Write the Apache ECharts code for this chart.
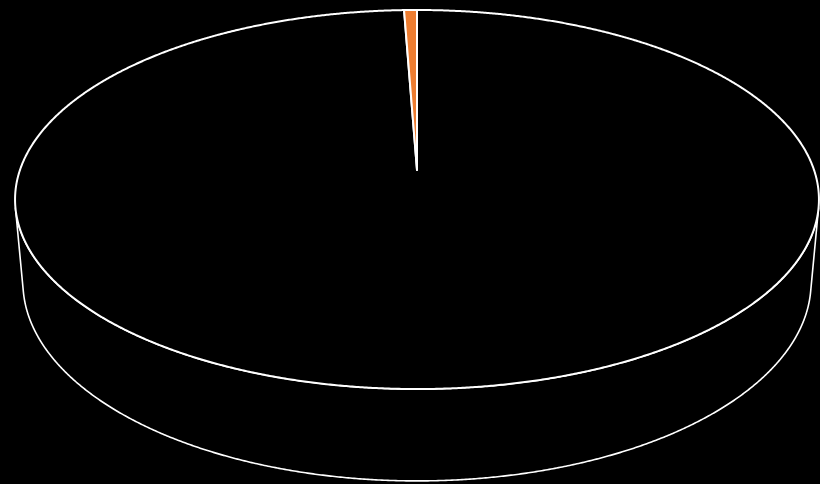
<!DOCTYPE html>
<html>
<head>
<meta charset="utf-8">
<script src="https://cdn.jsdelivr.net/npm/echarts@6/dist/echarts.min.js"></script>
<style>
  html, body { margin: 0; padding: 0; background: #000; }
  #chart { width: 820px; height: 484px; }
</style>
</head>
<body>
<div id="chart"></div>
<script>
// Slice data (clockwise from 12 o'clock)
const categories = ['Rest', 'Share'];
const values = [99.4, 0.6];
const sliceColors = ['#000000', '#ED7D31'];

// Perspective camera looking down onto a unit-radius disc
const CAM = {
  cx: 417,          // screen x of disc centre
  cy: 170,          // screen y of disc centre
  elev: 27.76,      // camera elevation, degrees
  dist: 5.681,      // camera distance (disc radii)
  focal: 2255.6,    // focal length, px
  thick: 0.238      // disc thickness (disc radii)
};
const SIN = Math.sin(CAM.elev * Math.PI / 180);
const COS = Math.cos(CAM.elev * Math.PI / 180);

// phi: degrees clockwise from the far point of the disc
function project(phiDeg, r, z) {
  const p = phiDeg * Math.PI / 180;
  const x = r * Math.sin(p);
  const y = r * Math.cos(p);
  const relY = y + CAM.dist * COS;
  const relZ = z - CAM.dist * SIN;
  const depth = relY * COS - relZ * SIN;
  const sy = relY * SIN + relZ * COS;
  return [CAM.cx + CAM.focal * x / depth, CAM.cy - CAM.focal * sy / depth];
}

function arc(a, b, z) {
  const pts = [];
  const n = Math.max(2, Math.ceil(Math.abs(b - a) / 0.25));
  for (let i = 0; i <= n; i++) pts.push(project(a + (b - a) * i / n, 1, z));
  return pts;
}

const total = values.reduce((s, v) => s + v, 0);
const starts = [];
values.reduce((acc, v, i) => { starts[i] = acc; return acc + v; }, 0);

function sliceRange(idx) {
  const a = starts[idx] / total * 360;
  const b = (starts[idx] + values[idx]) / total * 360;
  return [a, b];
}

// Visible front part of the side wall lies between the two silhouette generators
const silR = Math.acos(-1 / (CAM.dist * COS)) * 180 / Math.PI;
const silL = 360 - silR;

function darker(hex, f) {
  const n = parseInt(hex.slice(1), 16);
  const r = Math.round(((n >> 16) & 255) * f);
  const g = Math.round(((n >> 8) & 255) * f);
  const b = Math.round((n & 255) * f);
  return 'rgb(' + r + ',' + g + ',' + b + ')';
}

const seriesData = values.map((v, i) => ({
  name: categories[i],
  value: [v],
  itemStyle: { color: sliceColors[i] }
}));

function renderWall(params, api) {
  const [a, b] = sliceRange(params.dataIndex);
  const lo = Math.max(a, silR);
  const hi = Math.min(b, silL);
  if (hi <= lo) return null;
  const top = arc(lo, hi, 0);
  const bottom = arc(hi, lo, -CAM.thick);
  return {
    type: 'polygon',
    shape: { points: top.concat(bottom) },
    style: {
      fill: darker(api.visual('color'), 0.8),
      stroke: '#ffffff',
      lineWidth: 1.6,
      lineJoin: 'round'
    }
  };
}

function renderTop(params, api) {
  const [a, b] = sliceRange(params.dataIndex);
  const pts = [project(0, 0, 0)].concat(arc(a, b, 0));
  return {
    type: 'polygon',
    shape: { points: pts },
    style: {
      fill: api.visual('color'),
      stroke: '#ffffff',
      lineWidth: 2,
      lineJoin: 'round'
    }
  };
}

const chart = echarts.init(document.getElementById('chart'), null, { renderer: 'canvas' });
chart.setOption({
  backgroundColor: '#000000',
  animation: false,
  series: [
    {
      type: 'custom',
      name: 'wall',
      coordinateSystem: 'none',
      renderItem: renderWall,
      data: seriesData,
      z: 1
    },
    {
      type: 'custom',
      name: 'top',
      coordinateSystem: 'none',
      renderItem: renderTop,
      data: seriesData,
      z: 2
    }
  ]
});
</script>
</body>
</html>
